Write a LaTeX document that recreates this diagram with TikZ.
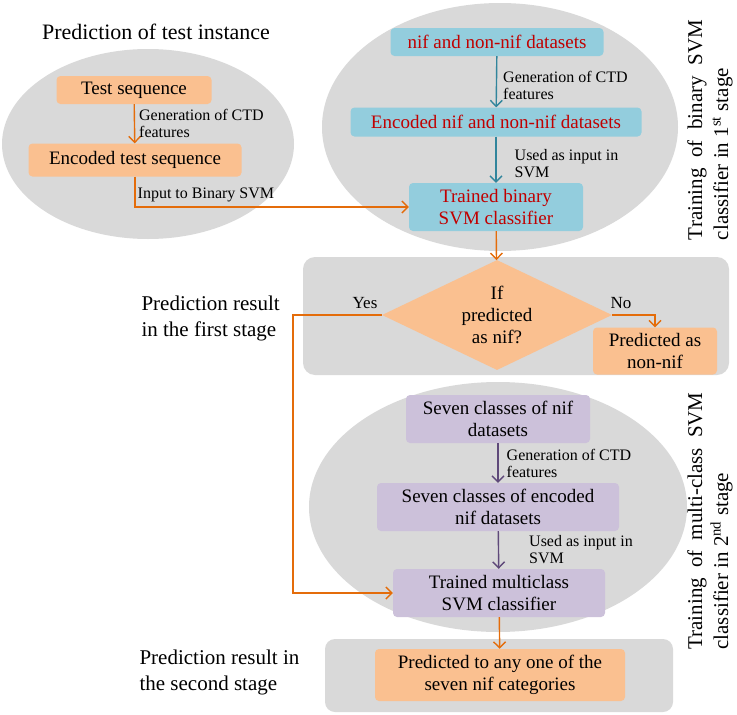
\documentclass[tikz,border=0pt]{standalone}
\usepackage{fontspec}
\setmainfont{LiberationSerif}[Extension=.ttf, UprightFont=*-Regular, BoldFont=*-Bold, ItalicFont=*-Italic, BoldItalicFont=*-BoldItalic]
\usetikzlibrary{shapes.geometric,arrows.meta,positioning}
\definecolor{bggray}{HTML}{D9D9D9}
\definecolor{boxorange}{HTML}{FAC090}
\definecolor{boxblue}{HTML}{93CDDD}
\definecolor{boxpurple}{HTML}{CCC1DA}
\definecolor{textred}{HTML}{C00000}
\definecolor{lineorange}{HTML}{E46C0A}
\definecolor{lineteal}{HTML}{31859C}
\definecolor{linepurple}{HTML}{5F497A}
\begin{document}
\begin{tikzpicture}
  [x=1pt, y=-1pt,
   box/.style={rounded corners=4pt, align=center, inner sep=2pt, font=\fontsize{19}{22}\selectfont},
   obox/.style={box, fill=boxorange},
   bbox/.style={box, fill=boxblue, text=textred},
   pbox/.style={box, fill=boxpurple},
   lab/.style={font=\fontsize{16}{17}\selectfont, align=left, inner sep=2pt, text=black},
   yn/.style={font=\fontsize{17}{19}\selectfont},
   head/.style={font=\fontsize{21}{26}\selectfont, align=left},
   tip/.style={-{Straight Barb[length=6pt,width=12pt]}},
   oarr/.style={lineorange, line width=1.4pt, tip},
   tarr/.style={lineteal, line width=1.4pt, tip},
   parr/.style={linepurple, line width=1.4pt, tip}]
  \useasboundingbox (0,0) rectangle (737,715);

  % backgrounds
  \fill[bggray] (148,144) ellipse (146 and 95);
  \fill[bggray] (500,127) ellipse (178 and 124);
  \fill[bggray, rounded corners=12pt] (303,257) rectangle (729,375);
  \fill[bggray] (498,507) ellipse (189 and 125);
  \fill[bggray, rounded corners=10pt] (325,639) rectangle (673,712);

  % test instance
  \node[head, font=\fontsize{22}{26}\selectfont] (title) at (156,32) {Prediction of test instance};
  \node[obox, minimum width=155pt, minimum height=28pt] (ts) at (134,90) {Test sequence};
  \node[obox, minimum width=213pt, minimum height=33pt] (ets) at (135,160) {Encoded test sequence};

  % binary SVM
  \node[bbox, minimum width=213pt, minimum height=28pt] (nd) at (497,42) {nif and non-nif datasets};
  \node[bbox, minimum width=291pt, minimum height=29pt] (end) at (496,122) {Encoded nif and non-nif datasets};
  \node[bbox, minimum width=174pt, minimum height=48pt] (tb) at (496,207) {Trained binary\\SVM classifier};
  \node[head, rotate=90] (vt1) at (710,130) {\makebox[220pt][s]{Training of binary SVM}\\classifier in\ 1\textsuperscript{st} stage};

  % first stage result
  \node[shape=diamond, fill=boxorange, aspect=2, inner sep=0pt, minimum width=230pt, minimum height=110pt,
        align=center, font=\fontsize{19}{22}\selectfont] (dia) at (497,315) {If\\predicted\\as nif?};
  \node[obox, minimum width=124pt, minimum height=47pt] (pnn) at (655,351) {Predicted as\\non-nif};
  \node[head, anchor=west] (res1) at (138,318) {Prediction result\\in the first stage};
  \node[yn] (yes) at (365,303) {Yes};
  \node[yn] (no) at (621,303) {No};
  \coordinate (ybend) at (293,315);

  % multiclass SVM
  \node[pbox, minimum width=184pt, minimum height=48pt] (s7) at (498,419) {Seven classes of nif\\datasets};
  \node[pbox, minimum width=242pt, minimum height=48pt] (s7e) at (498,507) {Seven classes of encoded\\nif datasets};
  \node[pbox, minimum width=212pt, minimum height=48pt] (tm) at (499,593) {Trained multiclass\\SVM classifier};
  \node[head, rotate=90] (vt2) at (710,521) {\makebox[257pt][s]{Training of multi-class SVM}\\classifier in\ 2\textsuperscript{nd}\ stage};

  % second stage result
  \node[obox, minimum width=250pt, minimum height=52pt] (pr) at (500,675) {Predicted to any one of the\\seven nif categories};
  \node[head, anchor=west] (res2) at (136,672) {Prediction result in\\the second stage};

  \draw[oarr] (ts) -- node[lab, right, xshift=2pt] {Generation of CTD\\features} (ets);
  \draw[oarr] (ets.south) |- node[lab, right, pos=0.3] {Input to Binary SVM} (tb.west);
  \draw[tarr] (nd) -- node[lab, right, xshift=4pt, yshift=-4pt] {Generation of CTD\\features} (end);
  \draw[tarr] (end) -- node[lab, right, xshift=16pt, yshift=-4pt] {Used as input in\\SVM} (tb);
  \draw[oarr] (tb) -- (dia);
  \draw[oarr] (dia.west) -- (ybend) |- (tm.west);
  \draw[oarr] (dia.east) -| (pnn.north);
  \draw[parr] (s7) -- node[lab, right, xshift=6pt] {Generation of CTD\\features} (s7e);
  \draw[parr] (s7e) -- node[lab, right, xshift=28pt] {Used as input in\\SVM} (tm);
  \draw[oarr] (tm) -- (pr);
\end{tikzpicture}
\end{document}
